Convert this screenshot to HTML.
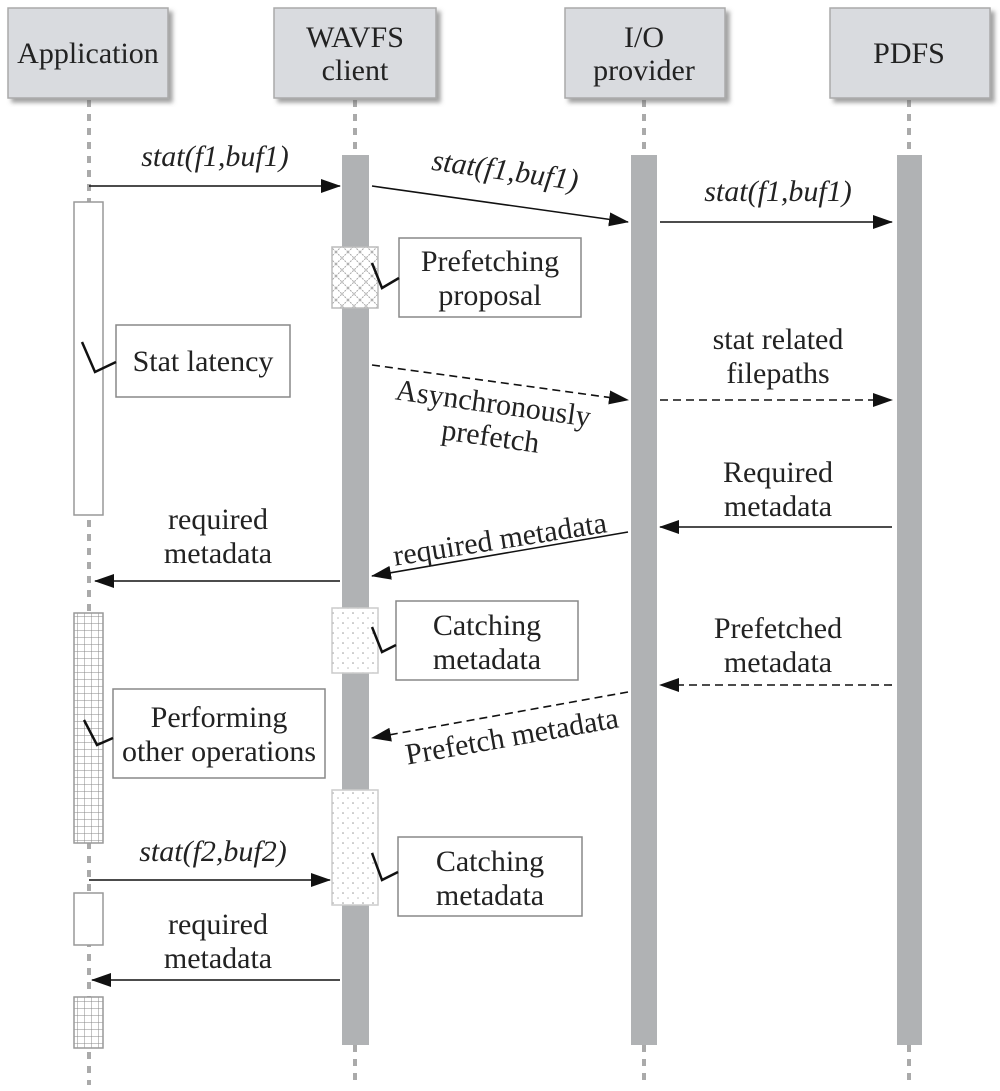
<!DOCTYPE html>
<html><head><meta charset="utf-8"><style>body{margin:0;background:#fff}svg{display:block}text{font-family:"Liberation Serif",serif;font-size:30px;fill:#222}.i{font-style:italic}</style></head><body>
<svg width="1000" height="1091" viewBox="0 0 1000 1091" xmlns="http://www.w3.org/2000/svg">
<defs>
<marker id="b" markerWidth="20" markerHeight="14" refX="19" refY="7" orient="auto" markerUnits="userSpaceOnUse"><path d="M0,0L20,7L0,14z" fill="#111"/></marker>
<pattern id="grid" width="7" height="7" patternUnits="userSpaceOnUse"><rect width="7" height="7" fill="#fff"/><path d="M0,0H7M0,0V7" stroke="#888" stroke-width="1"/></pattern>
<pattern id="xh" width="12" height="12" patternUnits="userSpaceOnUse"><rect width="12" height="12" fill="#fff"/><path d="M0,0L12,12M12,0L0,12" stroke="#aaa" stroke-width="1" stroke-dasharray="2,1"/></pattern>
<pattern id="dot" width="10" height="10" patternUnits="userSpaceOnUse"><rect width="10" height="10" fill="#fff"/><circle cx="3" cy="3" r="0.8" fill="#999"/><circle cx="8" cy="8" r="0.8" fill="#bbb"/></pattern>
<filter id="sh"><feDropShadow dx="4" dy="4" stdDeviation="2" flood-color="#666" flood-opacity="0.6"/></filter>
</defs>
<g stroke="#aaa" stroke-width="4" stroke-dasharray="7,7">
<line x1="89" y1="100" x2="89" y2="1085"/>
<line x1="355" y1="100" x2="355" y2="155"/><line x1="355" y1="1045" x2="355" y2="1085"/>
<line x1="644" y1="100" x2="644" y2="155"/><line x1="644" y1="1045" x2="644" y2="1085"/>
<line x1="909" y1="100" x2="909" y2="155"/><line x1="909" y1="1045" x2="909" y2="1085"/>
</g>
<g fill="#d9dbdf" stroke="#aaa" stroke-width="1.5" filter="url(#sh)">
<rect x="8" y="8" width="160" height="90"/><rect x="274" y="8" width="162" height="90"/>
<rect x="565" y="8" width="160" height="90"/><rect x="830" y="8" width="160" height="90"/>
</g>
<text x="88" y="63" text-anchor="middle">Application</text>
<text x="355" y="47" text-anchor="middle">WAVFS</text><text x="355" y="80" text-anchor="middle">client</text>
<text x="644" y="47" text-anchor="middle">I/O</text><text x="644" y="80" text-anchor="middle">provider</text>
<text x="909" y="63" text-anchor="middle">PDFS</text>
<g fill="#b0b2b4"><rect x="342" y="155" width="27" height="890"/><rect x="631" y="155" width="26" height="890"/><rect x="897" y="155" width="25" height="890"/></g>
<g stroke="#999" stroke-width="1.5">
<rect x="74" y="202" width="29" height="313" fill="#fff"/>
<rect x="74" y="613" width="29" height="230" fill="url(#grid)"/>
<rect x="74" y="893" width="29" height="52" fill="#fff"/>
<rect x="74" y="997" width="29" height="51" fill="url(#grid)"/>
<rect x="332" y="247" width="46" height="61" fill="url(#xh)" stroke="#bbb"/>
<rect x="332" y="608" width="46" height="65" fill="url(#dot)" stroke="#ccc"/>
<rect x="332" y="790" width="46" height="115" fill="url(#dot)" stroke="#ccc"/>
</g>
<g fill="#fff" stroke="#888" stroke-width="1.5">
<rect x="399" y="238" width="182" height="79"/><rect x="116" y="325" width="174" height="72"/>
<rect x="396" y="601" width="182" height="79"/><rect x="113" y="689" width="212" height="89"/>
<rect x="398" y="837" width="184" height="79"/>
</g>
<g fill="none" stroke="#111" stroke-width="2.5">
<path d="M372,263L382,288L399,278"/><path d="M82,342L95,372L116,362"/>
<path d="M372,627L382,652L396,645"/><path d="M84,720L97,745L113,738"/>
<path d="M372,853L382,880L398,872"/>
</g>
<text x="490" y="271" text-anchor="middle">Prefetching</text><text x="490" y="305" text-anchor="middle">proposal</text>
<text x="203" y="371" text-anchor="middle">Stat latency</text>
<text x="487" y="635" text-anchor="middle">Catching</text><text x="487" y="669" text-anchor="middle">metadata</text>
<text x="219" y="727" text-anchor="middle">Performing</text><text x="219" y="761" text-anchor="middle">other operations</text>
<text x="490" y="871" text-anchor="middle">Catching</text><text x="490" y="905" text-anchor="middle">metadata</text>
<g stroke="#111" stroke-width="1.6" fill="none">
<line x1="89" y1="186" x2="340" y2="186" marker-end="url(#b)"/>
<line x1="372" y1="186" x2="628" y2="222" marker-end="url(#b)"/>
<line x1="660" y1="222" x2="892" y2="222" marker-end="url(#b)"/>
<line x1="372" y1="365" x2="628" y2="400" marker-end="url(#b)" stroke-dasharray="8,5"/>
<line x1="660" y1="400" x2="892" y2="400" marker-end="url(#b)" stroke-dasharray="8,5"/>
<line x1="892" y1="527" x2="660" y2="527" marker-end="url(#b)"/>
<line x1="628" y1="532" x2="372" y2="576" marker-end="url(#b)"/>
<line x1="340" y1="581" x2="95" y2="581" marker-end="url(#b)"/>
<line x1="892" y1="685" x2="660" y2="685" marker-end="url(#b)" stroke-dasharray="8,5"/>
<line x1="628" y1="692" x2="372" y2="738" marker-end="url(#b)" stroke-dasharray="8,5"/>
<line x1="89" y1="880" x2="330" y2="880" marker-end="url(#b)"/>
<line x1="340" y1="980" x2="92" y2="980" marker-end="url(#b)"/>
</g>
<text class="i" x="215" y="166" text-anchor="middle">stat(f1,buf1)</text>
<text class="i" x="505" y="180" text-anchor="middle" transform="rotate(8 505 172)">stat(f1,buf1)</text>
<text class="i" x="778" y="201" text-anchor="middle">stat(f1,buf1)</text>
<text x="492" y="413" text-anchor="middle" transform="rotate(8 492 412)">Asynchronously</text>
<text x="490" y="446" text-anchor="middle" transform="rotate(8 490 440)">prefetch</text>
<text x="778" y="349" text-anchor="middle">stat related</text><text x="778" y="383" text-anchor="middle">filepaths</text>
<text x="778" y="482" text-anchor="middle">Required</text><text x="778" y="516" text-anchor="middle">metadata</text>
<text x="500" y="549" text-anchor="middle" transform="rotate(-9 500 540)">required metadata</text>
<text x="218" y="529" text-anchor="middle">required</text><text x="218" y="563" text-anchor="middle">metadata</text>
<text x="778" y="638" text-anchor="middle">Prefetched</text><text x="778" y="672" text-anchor="middle">metadata</text>
<text x="512" y="746" text-anchor="middle" transform="rotate(-10 512 737)">Prefetch metadata</text>
<text class="i" x="213" y="861" text-anchor="middle">stat(f2,buf2)</text>
<text x="218" y="934" text-anchor="middle">required</text><text x="218" y="968" text-anchor="middle">metadata</text>
</svg>
</body></html>
